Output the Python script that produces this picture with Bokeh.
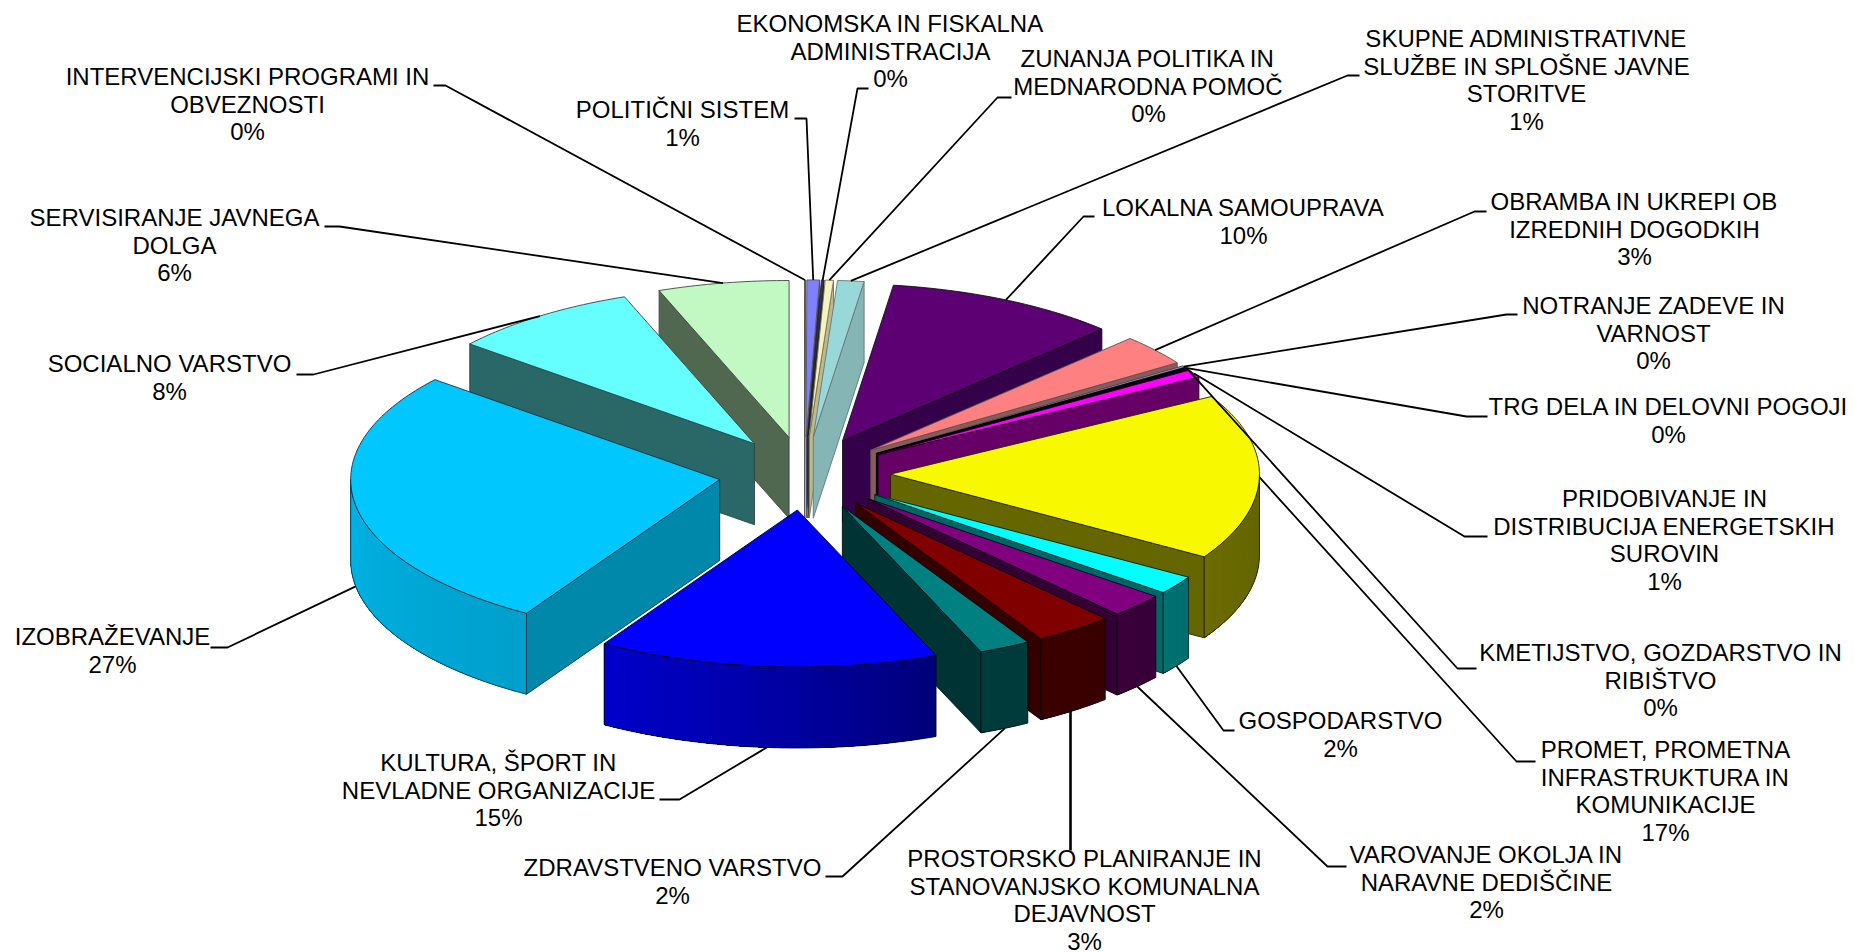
import math
import numpy as np
from bokeh.plotting import figure
from bokeh.models import ColumnDataSource, Range1d
from bokeh.core.properties import value
from bokeh.embed import file_html
from bokeh.resources import INLINE

# ---- data (clockwise from 12 o'clock) -------------------------------------
categories = [
    "INTERVENCIJSKI PROGRAMI IN\nOBVEZNOSTI",
    "POLITIČNI SISTEM",
    "EKONOMSKA IN FISKALNA\nADMINISTRACIJA",
    "ZUNANJA POLITIKA IN\nMEDNARODNA POMOČ",
    "SKUPNE ADMINISTRATIVNE\nSLUŽBE IN SPLOŠNE JAVNE\nSTORITVE",
    "LOKALNA SAMOUPRAVA",
    "OBRAMBA IN UKREPI OB\nIZREDNIH DOGODKIH",
    "NOTRANJE ZADEVE IN\nVARNOST",
    "TRG DELA IN DELOVNI POGOJI",
    "KMETIJSTVO, GOZDARSTVO IN\nRIBIŠTVO",
    "PRIDOBIVANJE IN\nDISTRIBUCIJA ENERGETSKIH\nSUROVIN",
    "PROMET, PROMETNA\nINFRASTRUKTURA IN\nKOMUNIKACIJE",
    "GOSPODARSTVO",
    "VAROVANJE OKOLJA IN\nNARAVNE DEDIŠČINE",
    "PROSTORSKO PLANIRANJE IN\nSTANOVANJSKO KOMUNALNA\nDEJAVNOST",
    "ZDRAVSTVENO VARSTVO",
    "KULTURA, ŠPORT IN\nNEVLADNE ORGANIZACIJE",
    "IZOBRAŽEVANJE",
    "SOCIALNO VARSTVO",
    "SERVISIRANJE JAVNEGA\nDOLGA",
]
values = [0.03, 0.55, 0.11, 0.36, 1.15, 10.2, 3.2, 0.17, 0.11, 0.08, 0.81,
          17.05, 1.9, 2.45, 3.45, 2.25, 14.9, 27.2, 8.3, 5.73]

# ---- styles ---------------------------------------------------------------
top_colors = ["#555566", "#8080FF", "#333366", "#F6F3C0", "#99D8D8", "#5C0073",
              "#FF8080", "#8A90C8", "#101030", "#500050", "#FF00FF", "#F8F800",
              "#00FFFF", "#800080", "#800000", "#008080", "#0000FF", "#00C8FF",
              "#66FFFF", "#C2F8C2"]
cut_colors = ["#333344", "#333366", "#1A1A40", "#BDB98C", "#85B5B5", "#35004A",
              "#8C5A5A", "#50556E", "#000000", "#000000", "#660066", "#666600",
              "#006666", "#330033", "#330000", "#003333", "#000066", "#0088AA",
              "#2A6868", "#506850"]
edge_colors = ["#555555", "#555555", "#222222", "#777755", "#667777", "#111111",
               "#555555", "#444444", "#000000", "#000000", "#220022", "#222200",
               "#002222", "#110011", "#110000", "#001111", "#000022", "#113344",
               "#334444", "#444444"]

# ---- label layout (full-size pixels) --------------------------------------
label_x = [247, 682, 890, 1148, 1526, 1243, 1634, 1653, 1668, 1660, 1664, 1665,
           1340, 1486, 1084, 672, 498, 112, 169, 174]
label_y = [76, 109, 23, 58, 38, 207, 201, 305, 406, 652, 498, 749,
           720, 854, 858, 867, 762, 636, 363, 217]
elbow_x = [(433, 445), (794, 806), (868, 857), (1011, 997), (1359, 1347),
           (1094, 1083), (1486, 1474), (1517, 1506), (1487, 1466), (1476, 1457),
           (1487, 1464), (1535, 1516), (1234, 1223), (1346, 1327), (1070, 1070),
           (825, 842), (659, 679), (210, 227), (296, 313), (324, 339)]
elbow_y = [85, 118, 88, 97, 75, 216, 211, 314, 416, 668, 536, 761,
           730, 866, 850, 876, 799, 647, 374, 226]
LINE_GAP = 27.7
FONT_SIZE = "24px"
FONT = "Liberation Sans"

# ---- pie geometry ---------------------------------------------------------
CX, CY = 804.0, 473.0   # pie centre
RX, RY = 369.0, 157.0   # radii of the projected circle
EXPLODE = 0.233         # explosion as a share of the radius
DEPTH = 81.0            # height of the pie

total = sum(values)
edges = np.concatenate([[0.0], np.cumsum(values)]) / total * 360.0


def shade(hex_color, f):
    r, g, b = (int(hex_color[i:i + 2], 16) for i in (1, 3, 5))
    return "#%02X%02X%02X" % (int(r * f), int(g * f), int(b * f))


def arc_point(ax, ay, t):
    a = math.radians(t)
    return ax + RX * math.sin(a), ay - RY * math.cos(a)


def apex(tm):
    a = math.radians(tm)
    return CX + EXPLODE * RX * math.sin(a), CY - EXPLODE * RY * math.cos(a)


polys = dict(xs=[], ys=[], fill=[], line=[], width=[], falpha=[], lalpha=[])


def add(xs, ys, fill, line, width=0.9, falpha=1.0, lalpha=1.0):
    polys["xs"].append(list(xs))
    polys["ys"].append(list(ys))
    polys["fill"].append(fill)
    polys["line"].append(line)
    polys["width"].append(width)
    polys["falpha"].append(falpha)
    polys["lalpha"].append(lalpha)


mids = (edges[:-1] + edges[1:]) / 2
order = sorted(range(len(values)), key=lambda i: -math.cos(math.radians(mids[i])) )

for i in order:
    ts, te, tm = edges[i], edges[i + 1], mids[i]
    ax, ay = apex(tm)
    top, cut, edge = top_colors[i], cut_colors[i], edge_colors[i]

    # radial cut face that looks at the viewer
    face_t = te if te < 180 else (ts if ts > 180 else None)
    if face_t is not None:
        ex, ey = arc_point(ax, ay, face_t)
        add([ax, ex, ex, ax], [ay, ey, ey + DEPTH, ay + DEPTH], cut, edge)

    # outer wall, shaded around the rim: overlapping unstroked bands, so no seams show
    w0, w1 = max(ts, 90.0), min(te, 270.0)
    if w1 > w0:
        steps = np.linspace(w0, w1, max(2, int((w1 - w0) / 2.0) + 2))
        for j, (a, b) in enumerate(zip(steps[:-1], steps[1:])):
            f = float(np.interp((a + b) / 2, [90, 157, 184, 212, 270],
                                [0.40, 0.47, 0.65, 0.80, 0.90]))
            col = shade(top, f)
            ang = np.linspace(w0 if j == 0 else a, w1, max(2, int(w1 - a) + 2))
            band = [arc_point(ax, ay, t) for t in ang]
            xs = [q[0] for q in band]
            ys = [q[1] for q in band]
            add(xs + xs[::-1], ys + [y + DEPTH for y in ys[::-1]], col, col, 0.0, 1.0, 0.0)
        ring = [arc_point(ax, ay, t) for t in np.linspace(w0, w1, max(2, int(w1 - w0) + 2))]
        xs = [q[0] for q in ring]
        ys = [q[1] for q in ring]
        add(xs + xs[::-1], ys + [y + DEPTH for y in ys[::-1]], top, edge, 0.9, 0.0)

    # top face
    arc = [arc_point(ax, ay, t) for t in np.linspace(ts, te, max(2, int(te - ts) + 2))]
    add([ax] + [q[0] for q in arc], [ay] + [q[1] for q in arc], top, edge)

# ---- figure ---------------------------------------------------------------
p = figure(width=1854, height=952, x_range=Range1d(0, 1854), y_range=Range1d(952, 0),
           output_backend="svg", toolbar_location=None, min_border=0,
           x_axis_location=None, y_axis_location=None, outline_line_color=None,
           background_fill_color="white", border_fill_color="white")
p.grid.visible = False

p.patches("xs", "ys", source=ColumnDataSource(polys), fill_color="fill", fill_alpha="falpha",
          line_color="line", line_alpha="lalpha", line_width="width", line_join="round")

# ---- leader lines ---------------------------------------------------------
lx, ly, lw = [], [], []
for i, tm in enumerate(mids):
    ax, ay = apex(tm)
    ex, ey = arc_point(ax, ay, tm)
    if math.cos(math.radians(tm)) < -0.05:
        ey += DEPTH
    (x0, x1), y0 = elbow_x[i], elbow_y[i]
    if x0 == x1:
        ex = x1
    lx.append([x0, x1, ex])
    ly.append([y0, y0, ey])
    lw.append(2.6 if x0 == x1 else 1.8)
p.multi_line(lx, ly, line_color="black", line_width=lw)

# ---- labels ---------------------------------------------------------------
tx, ty, tt = [], [], []
for i, (name, val) in enumerate(zip(categories, values)):
    lines = name.split("\n") + ["%d%%" % round(val)]
    for k, line in enumerate(lines):
        tx.append(label_x[i])
        ty.append(label_y[i] + k * LINE_GAP)
        tt.append(line)
p.text(tx, ty, text=tt, text_font=value(FONT), text_font_size=FONT_SIZE, text_color="black",
       text_align="center", text_baseline="middle")

open("out.html", "w").write(file_html(p, INLINE))
